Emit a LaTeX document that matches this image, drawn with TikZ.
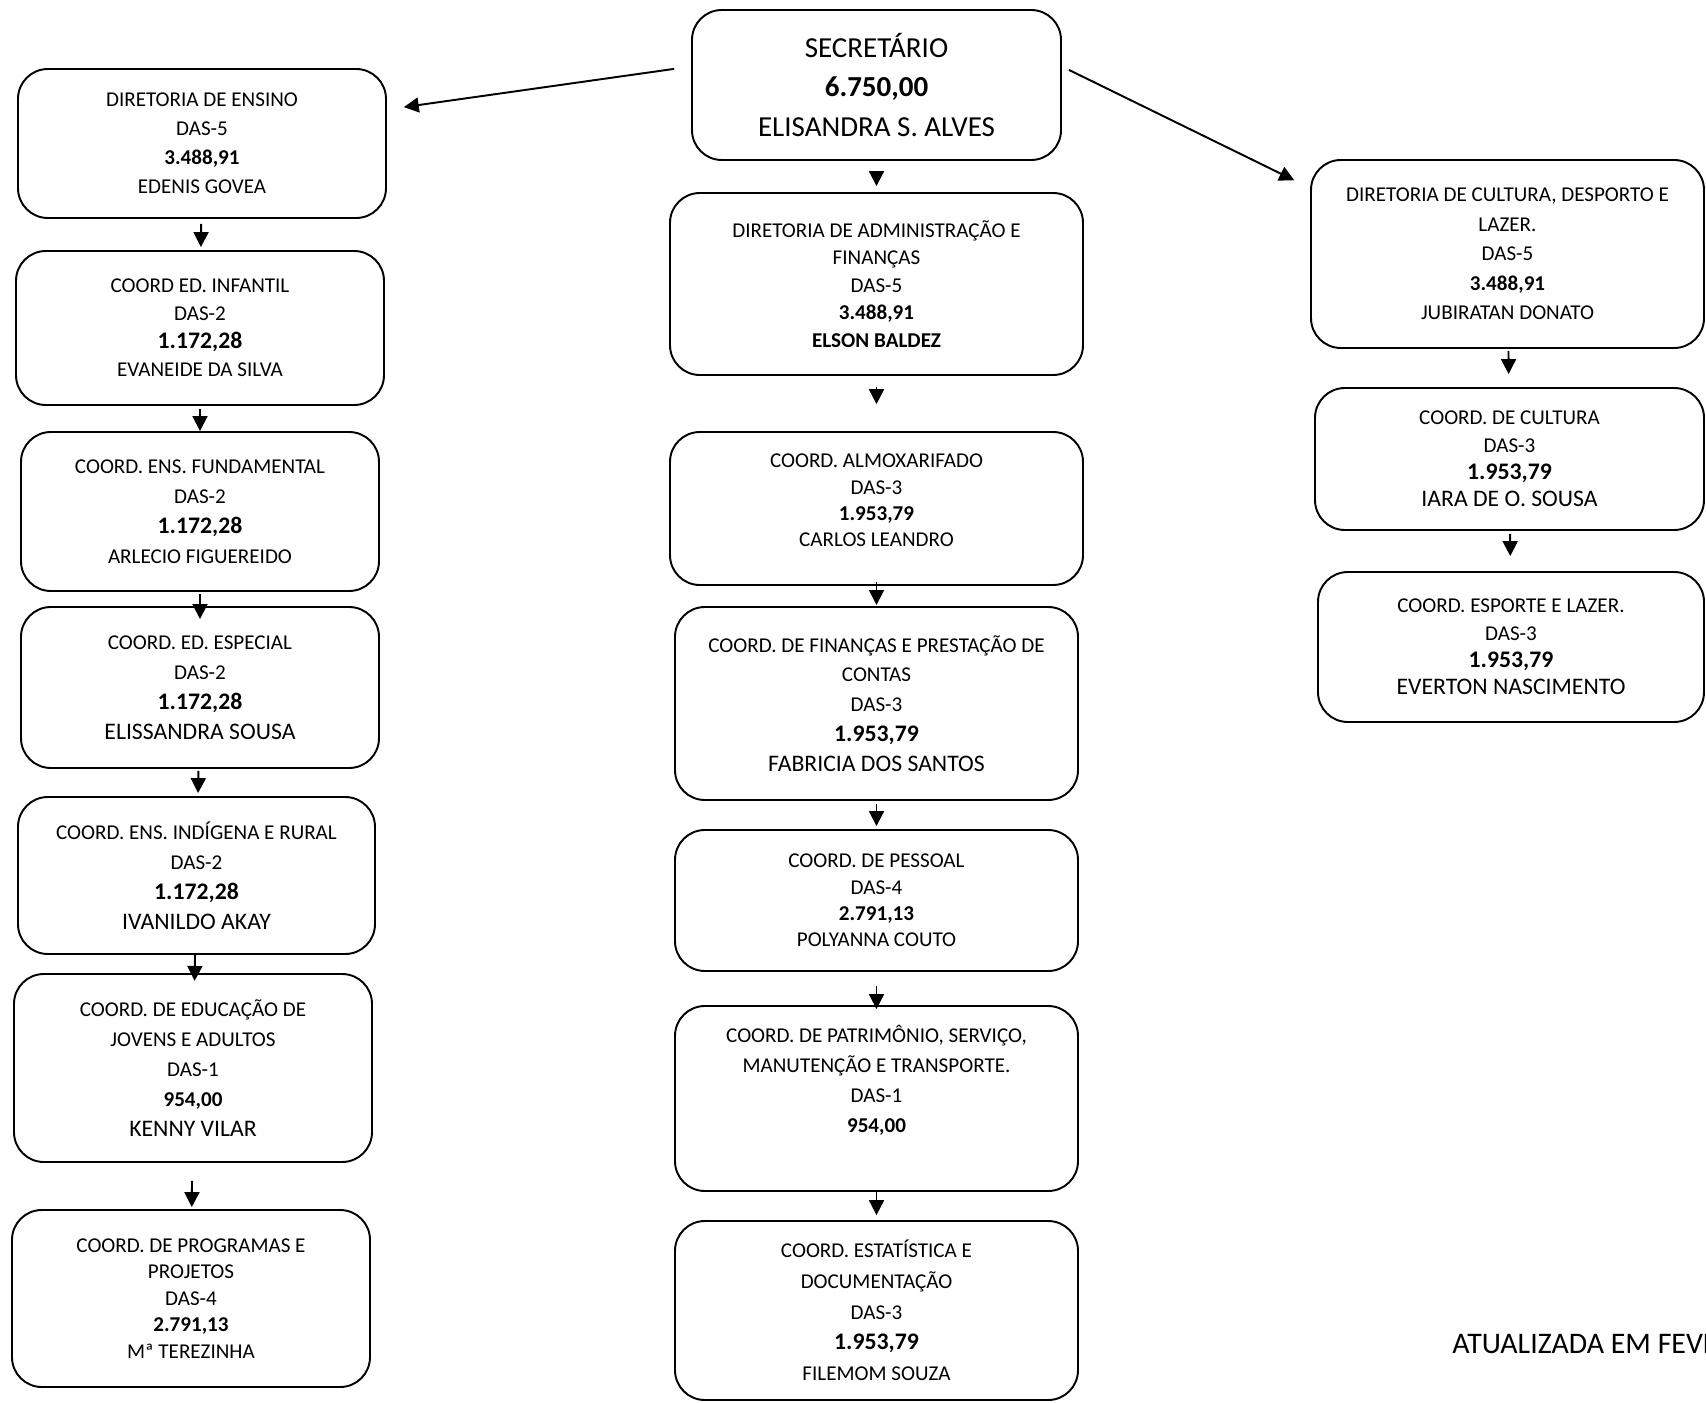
\documentclass[tikz,border=0pt]{standalone}
\usepackage{fontspec}
\setmainfont{Carlito}
\usetikzlibrary{arrows.meta}

\newcommand{\grande}{\fontsize{13.5}{16}\selectfont}

\begin{document}
\begin{tikzpicture}[
		cargo/.style={draw, line width=1.1pt, rounded corners=17pt, align=center, inner sep=0pt},
		justo/.style={font=\fontsize{12}{15}\selectfont},
		solto/.style={font=\fontsize{12}{17}\selectfont},
		seta/.style={line width=1.1pt, -{Triangle[length=8.5pt, width=8.5pt]}},
	]
	\useasboundingbox (0,0) rectangle (34.12,-28.06);

	% coluna do meio
	\node[cargo, font=\fontsize{16.5}{22.7}\selectfont,
			minimum width=7.38cm, minimum height=3cm,
		] (sec) at (17.53,-1.7) {SECRETÁRIO\\ \textbf{6.750,00}\\ ELISANDRA S. ALVES};
	\node[cargo, font=\fontsize{12}{15.6}\selectfont,
			minimum width=8.26cm, minimum height=3.64cm,
		] (admin) at (17.53,-5.68) {DIRETORIA DE ADMINISTRAÇÃO E\\ FINANÇAS\\ DAS-5\\ \textbf{3.488,91}\\ \textbf{ELSON BALDEZ}};
	\node[cargo, justo, text depth=9pt,
			minimum width=8.26cm, minimum height=3.06cm,
		] (almox) at (17.53,-10.17) {COORD. ALMOXARIFADO\\ DAS-3\\ \textbf{1.953,79}\\ CARLOS LEANDRO};
	\node[cargo, solto,
			minimum width=8.06cm, minimum height=3.86cm,
		] (financas) at (17.53,-14.07) {COORD. DE FINANÇAS E PRESTAÇÃO DE\\ CONTAS\\ DAS-3\\ {\grande\bfseries 1.953,79}\\ {\grande FABRICIA DOS SANTOS}};
	\node[cargo, justo,
			minimum width=8.06cm, minimum height=2.82cm,
		] (pessoal) at (17.53,-18.01) {COORD. DE PESSOAL\\ DAS-4\\ \textbf{2.791,13}\\ POLYANNA COUTO};
	\node[cargo, solto,
			minimum width=8.06cm, minimum height=3.7cm,
		] (patrimonio) at (17.53,-21.97) {COORD. DE PATRIMÔNIO, SERVIÇO,\\ MANUTENÇÃO E TRANSPORTE.\\ DAS-1\\ \textbf{954,00}\\ \strut};
	\node[cargo, font=\fontsize{12}{17.5}\selectfont,
			minimum width=8.06cm, minimum height=3.58cm,
		] (estatistica) at (17.53,-26.21) {COORD. ESTATÍSTICA E\\ DOCUMENTAÇÃO\\ DAS-3\\ {\grande\bfseries 1.953,79}\\ FILEMOM SOUZA};

	% coluna da esquerda
	\node[cargo, font=\fontsize{12}{16.5}\selectfont,
			minimum width=7.36cm, minimum height=2.98cm,
		] (ensino) at (4.04,-2.87) {DIRETORIA DE ENSINO\\ DAS-5\\ \textbf{3.488,91}\\ EDENIS GOVEA};
	\node[cargo, font=\fontsize{12}{16}\selectfont,
			minimum width=7.36cm, minimum height=3.08cm,
		] (infantil) at (4.0,-6.56) {COORD ED. INFANTIL\\ DAS-2\\ {\grande\bfseries 1.172,28}\\ EVANEIDE DA SILVA};
	\node[cargo, solto,
			minimum width=7.16cm, minimum height=3.18cm,
		] (fundamental) at (4.0,-10.23) {COORD. ENS. FUNDAMENTAL\\ DAS-2\\ {\grande\bfseries 1.172,28}\\ ARLECIO FIGUEREIDO};
	\node[cargo, solto,
			minimum width=7.16cm, minimum height=3.22cm,
		] (especial) at (4.0,-13.75) {COORD. ED. ESPECIAL\\ DAS-2\\ {\grande\bfseries 1.172,28}\\ {\grande ELISSANDRA SOUSA}};
	\node[cargo, solto,
			minimum width=7.14cm, minimum height=3.14cm,
		] (indigena) at (3.93,-17.51) {COORD. ENS. INDÍGENA E RURAL\\ DAS-2\\ {\grande\bfseries 1.172,28}\\ {\grande IVANILDO AKAY}};
	\node[cargo, solto,
			minimum width=7.16cm, minimum height=3.76cm,
		] (jovens) at (3.86,-21.36) {COORD. DE EDUCAÇÃO DE\\ JOVENS E ADULTOS\\ DAS-1\\ \textbf{954,00}\\ {\grande KENNY VILAR}};
	\node[cargo, justo,
			minimum width=7.16cm, minimum height=3.54cm,
		] (programas) at (3.82,-25.97) {COORD. DE PROGRAMAS E\\ PROJETOS\\ DAS-4\\ \textbf{2.791,13}\\ Mª TEREZINHA};

	% coluna da direita
	\node[cargo, font=\fontsize{12}{16.8}\selectfont,
			minimum width=7.86cm, minimum height=3.76cm,
		] (cultura) at (30.15,-5.08) {DIRETORIA DE CULTURA, DESPORTO E\\ LAZER.\\ DAS-5\\ \textbf{3.488,91}\\ JUBIRATAN DONATO};
	\node[cargo, font=\fontsize{12}{15.5}\selectfont,
			minimum width=7.78cm, minimum height=2.84cm,
		] (coordcultura) at (30.19,-9.18) {COORD. DE CULTURA\\ DAS-3\\ {\grande\bfseries 1.953,79}\\ {\grande IARA DE O. SOUSA}};
	\node[cargo, font=\fontsize{12}{15.5}\selectfont,
			minimum width=7.72cm, minimum height=3cm,
		] (esporte) at (30.22,-12.94) {COORD. ESPORTE E LAZER.\\ DAS-3\\ {\grande\bfseries 1.953,79}\\ {\grande EVERTON NASCIMENTO}};

	\node[anchor=base west, inner sep=0pt, font=\fontsize{17}{20}\selectfont] (nota) at (29.04,-27.06) {ATUALIZADA EM FEVEREIRO};

	\draw[seta, shorten <=9.7pt, shorten >=9.7pt] ([yshift=0.37cm]sec.west) to ([yshift=0.68cm]ensino.east);
	\draw[seta, shorten <=4.4pt, shorten >=10pt] ([yshift=0.37cm]sec.east) to ([yshift=1.32cm]cultura.west);

	\draw[seta, shorten <=6.2pt, shorten >=3.4pt] (sec) to (admin);
	\draw[seta, shorten <=6.2pt, shorten >=15.3pt] (admin) to (almox);
	\draw[seta, shorten <=-2.3pt, shorten >=0.6pt] (almox) to (financas);
	\draw[seta, shorten <=1.7pt, shorten >=1.7pt] (financas) to (pessoal);
	\draw[seta, shorten <=7.9pt, shorten >=-2.3pt] (pessoal) to (patrimonio);
	\draw[seta, shorten >=2.8pt] (patrimonio) to (estatistica);

	\draw[seta, shorten <=2.8pt, shorten >=1.7pt] (ensino) to (infantil);
	\draw[seta, shorten <=1.7pt] (infantil) to (fundamental);
	\draw[seta, shorten <=1.1pt, shorten >=-7.4pt] (fundamental) to (especial);
	\draw[seta, shorten <=1.1pt, shorten >=1.7pt] (especial) to (indigena);
	\draw[seta, shorten >=-4.5pt] (indigena) to (jovens);
	\draw[seta, shorten <=10.2pt, shorten >=1.1pt] (jovens) to (programas);

	\draw[seta, shorten <=1.1pt, shorten >=7.4pt] (cultura) to (coordcultura);
	\draw[seta, shorten <=1.7pt, shorten >=8.5pt] (coordcultura) to (esporte);
\end{tikzpicture}
\end{document}
